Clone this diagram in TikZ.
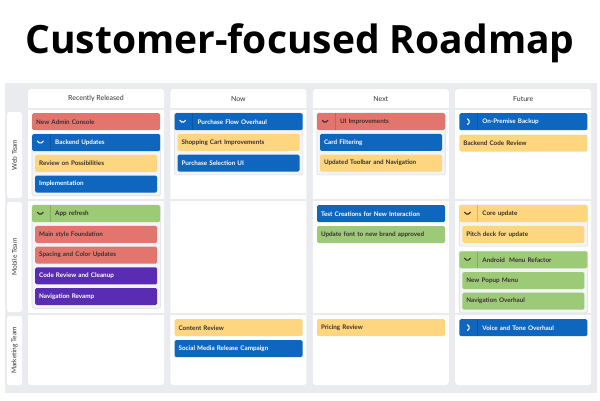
\documentclass[tikz,border=0pt]{standalone}
\usepackage{fontspec}
\setmainfont{Lato}
\newfontfamily\titlefont{Open Sans}
\usepackage{xcolor}
\usetikzlibrary{positioning, calc}

\definecolor{cardred}{HTML}{E2766E}
\definecolor{cardblue}{HTML}{0E66BE}
\definecolor{cardyellow}{HTML}{FDD67F}
\definecolor{cardgreen}{HTML}{9DCA77}
\definecolor{cardpurple}{HTML}{5A2CB4}
\definecolor{boardgray}{HTML}{E9EBEE}
\definecolor{edgegray}{HTML}{D9DCE0}
\definecolor{groupgray}{HTML}{F3F4F6}
\definecolor{inkdark}{HTML}{3B2F2F}
\definecolor{headink}{HTML}{333333}

\pgfdeclarelayer{board}
\pgfdeclarelayer{group}
\pgfsetlayers{board,group,main}

\begin{document}
\begin{tikzpicture}[
    x=1pt, y=-1pt,
    card/.style={rectangle, rounded corners=1.5pt, inner xsep=4pt, inner ysep=0pt, minimum height=17pt, align=left, font=\fontsize{6.3}{7}\selectfont\bfseries},
    top/.style={card, text width=120pt},
    sub/.style={card, text width=114pt},
    redcard/.style={fill=cardred, text=inkdark},
    bluecard/.style={fill=cardblue, text=white},
    yellowcard/.style={fill=cardyellow, text=inkdark},
    greencard/.style={fill=cardgreen, text=inkdark},
    purplecard/.style={fill=cardpurple, text=white},
    head/.style={top, path picture={
        \draw[black, opacity=.15, line width=.6pt] ([xshift=18pt]path picture bounding box.north west) -- ([xshift=18pt]path picture bounding box.south west);
        \draw[#1, line width=1.1pt, line cap=round, line join=round] ([xshift=5.2pt, yshift=1.5pt]path picture bounding box.west) -- ++(2.9pt,-2.9pt) -- ++(2.9pt,2.9pt);}},
    shut/.style={top, path picture={
        \draw[black, opacity=.15, line width=.6pt] ([xshift=18pt]path picture bounding box.north west) -- ([xshift=18pt]path picture bounding box.south west);
        \draw[#1, line width=1.1pt, line cap=round, line join=round] ([xshift=8pt, yshift=2.9pt]path picture bounding box.west) -- ++(2.7pt,-2.9pt) -- ++(-2.7pt,-2.9pt);}},
    groupbox/.style={fill=groupgray, draw=edgegray, line width=.6pt, rounded corners=2pt},
    panel/.style={fill=white, rounded corners=3pt},
    rowtag/.style={fill=white, rounded corners=2.5pt},
    rowlabel/.style={rotate=90, font=\fontsize{6.6}{7}\selectfont, text=headink},
    collabel/.style={font=\fontsize{7}{8}\selectfont, text=headink}
]
\useasboundingbox (0,0) rectangle (600,400);

% Title
\node[font=\titlefont\bfseries\fontsize{39}{44}\selectfont, anchor=base] (title) at (300,53) {Customer-focused Roadmap};

% Board, columns and rows
\begin{pgfonlayer}{board}
\fill[boardgray] (5,83) rectangle (597,393);
\foreach \cx/\name/\lbl in {28/rel/Recently Released, 170.4/now/Now, 312.8/next/Next, 455.2/fut/Future} {
    \fill[panel] (\cx,89) rectangle (\cx+136,385);
    \node[collabel] (\name) at (\cx+68,99) {\lbl};
    \foreach \ly in {109,200,314}
        \draw[boardgray, line width=1.5pt] (\cx,\ly) -- (\cx+136,\ly);
}
\foreach \ya/\yb/\name/\lbl in {112/198/web/Web Team, 202/312/mobile/Mobile Team, 316/385/marketing/Marketing Team} {
    \fill[rowtag] (7,\ya) rectangle (22,\yb);
    \node[rowlabel] (\name) at (14.5,{(\ya+\yb)/2}) {\lbl};
}
\end{pgfonlayer}

% Web Team
\node[top, redcard, anchor=north west] (admin) at (32,113) {New Admin Console};
\node[head=white, bluecard, below=3.5pt of admin] (backend) {\hspace*{19pt}Backend Updates};
\node[sub, yellowcard, below=3.3pt of backend] (possib) {Review on Possibilities};
\node[sub, bluecard, below=3.3pt of possib] (implem) {Implementation};

\node[head=white, bluecard, anchor=north west] (purchase) at (174.4,113) {\hspace*{19pt}Purchase Flow Overhaul};
\node[sub, yellowcard, below=3.3pt of purchase] (cart) {Shopping Cart Improvements};
\node[sub, bluecard, below=3.3pt of cart] (selection) {Purchase Selection UI};

\node[head=inkdark, redcard, anchor=north west] (uiimpr) at (316.8,113) {\hspace*{19pt}UI Improvements};
\node[sub, bluecard, below=3.3pt of uiimpr] (filter) {Card Filtering};
\node[sub, yellowcard, below=3.3pt of filter] (toolbar) {Updated Toolbar and Navigation};

\node[shut=white, bluecard, anchor=north west] (premise) at (459.2,113) {\hspace*{19pt}On-Premise Backup};
\node[top, yellowcard, below=4pt of premise] (codereview) {Backend Code Review};

% Mobile Team
\node[head=inkdark, greencard, anchor=north west] (refresh) at (32,205) {\hspace*{19pt}App refresh};
\node[sub, redcard, below=3.3pt of refresh] (mainstyle) {Main style Foundation};
\node[sub, redcard, below=3.3pt of mainstyle] (spacing) {Spacing and Color Updates};
\node[sub, purplecard, below=3.3pt of spacing] (cleanup) {Code Review and Cleanup};
\node[sub, purplecard, below=3.3pt of cleanup] (revamp) {Navigation Revamp};

\node[top, bluecard, anchor=north west] (testcr) at (316.8,205) {Test Creations for New Interaction};
\node[top, greencard, below=3.5pt of testcr] (font) {Update font to new brand approved};

\node[head=inkdark, yellowcard, anchor=north west] (core) at (459.2,205) {\hspace*{19pt}Core update};
\node[sub, yellowcard, below=3.3pt of core] (pitch) {Pitch deck for update};
\node[head=inkdark, greencard, below=8pt of pitch] (android) {\hspace*{19pt}Android\ \ Menu Refactor};
\node[sub, greencard, below=3.3pt of android] (popup) {New Popup Menu};
\node[sub, greencard, below=3.3pt of popup] (navover) {Navigation Overhaul};

% Marketing Team
\node[top, yellowcard, anchor=north west] (content) at (174.4,319) {Content Review};
\node[top, bluecard, below=3.5pt of content] (social) {Social Media Release Campaign};
\node[top, yellowcard, anchor=north west] (pricing) at (316.8,319) {Pricing Review};
\node[shut=white, bluecard, anchor=north west] (voice) at (459.2,319) {\hspace*{19pt}Voice and Tone Overhaul};

% Group boxes
\begin{pgfonlayer}{group}
\foreach \hd/\last in {backend/implem, purchase/selection, uiimpr/toolbar, refresh/revamp, core/pitch, android/navover}
    \draw[groupbox] (\hd.north west) rectangle ([yshift=-3pt]\last.south -| \hd.east);
\end{pgfonlayer}

\end{tikzpicture}
\end{document}
